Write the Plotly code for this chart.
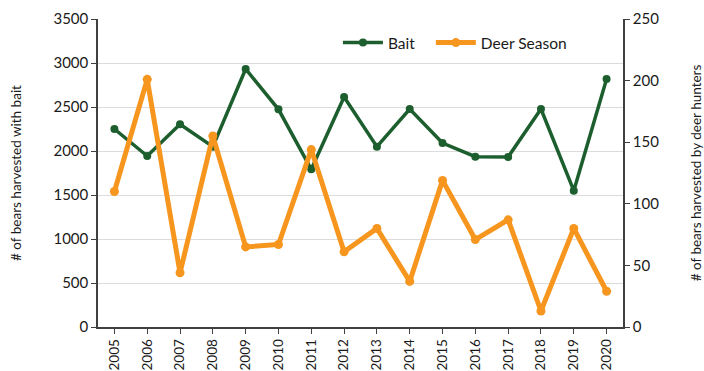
import plotly.graph_objects as go

years = [str(y) for y in range(2005, 2021)]
bait = [2250, 1943, 2303, 2049, 2932, 2474, 1792, 2614, 2049, 2477, 2091, 1935, 1932, 2477, 1549, 2818]
deer_season = [110, 201, 44, 155, 65, 67, 144, 61, 80, 37, 119, 71, 87, 13, 80, 29]

left_ticks = list(range(0, 3501, 500))
right_ticks = list(range(0, 251, 50))

GREEN = "#1d5e2e"
ORANGE = "#f7961e"
AXIS = "#404040"
TEXT = "#1a1a1a"
FONT = "Lato"

fig = go.Figure()
fig.add_trace(go.Scatter(
    x=years, y=bait, name="Bait", mode="lines+markers",
    line=dict(color=GREEN, width=3.5),
    marker=dict(color=GREEN, size=8),
    yaxis="y", legend="legend",
))
fig.add_trace(go.Scatter(
    x=years, y=deer_season, name="Deer Season", mode="lines+markers",
    line=dict(color=ORANGE, width=5),
    marker=dict(color=ORANGE, size=9),
    yaxis="y2", legend="legend2",
))

legend_style = dict(
    orientation="h", y=0.922, xanchor="left", yanchor="middle",
    bgcolor="rgba(0,0,0,0)", font=dict(size=15.5, color=TEXT),
    itemwidth=40,
)

fig.update_layout(
    width=704, height=371,
    margin=dict(l=98, r=81, t=19, b=44, autoexpand=False),
    paper_bgcolor="white", plot_bgcolor="white",
    font=dict(family=FONT, size=13, color=TEXT),
    showlegend=True,
    legend=dict(x=0.457, **legend_style),
    legend2=dict(x=0.634, **legend_style),
    xaxis=dict(
        type="category", range=[-0.5, 15.5], automargin=False,
        tickangle=-90, ticks="outside", ticklen=5, tickcolor=AXIS,
        showline=True, linecolor=AXIS, linewidth=1.5,
        showgrid=False, tickfont=dict(size=13.5, color=TEXT),
    ),
    yaxis=dict(
        range=[0, 3500], tickvals=left_ticks, automargin=False,
        ticks="outside", ticklen=5, tickcolor=AXIS,
        showline=True, linecolor=AXIS, linewidth=1.5,
        showgrid=True, gridcolor="#dcdcdc", gridwidth=1,
        zeroline=False,
        title=dict(text="# of bears harvested with bait", font=dict(size=13.5), standoff=29),
        tickfont=dict(size=15),
    ),
    yaxis2=dict(
        range=[0, 250], tickvals=right_ticks, automargin=False,
        overlaying="y", side="right",
        ticks="outside", ticklen=5, tickcolor=AXIS,
        showline=True, linecolor=AXIS, linewidth=1.5,
        showgrid=False, zeroline=False,
        title=dict(text="# of bears harvested by deer hunters", font=dict(size=13.5), standoff=33),
        tickfont=dict(size=15),
    ),
)

fig.write_html("out.html")
